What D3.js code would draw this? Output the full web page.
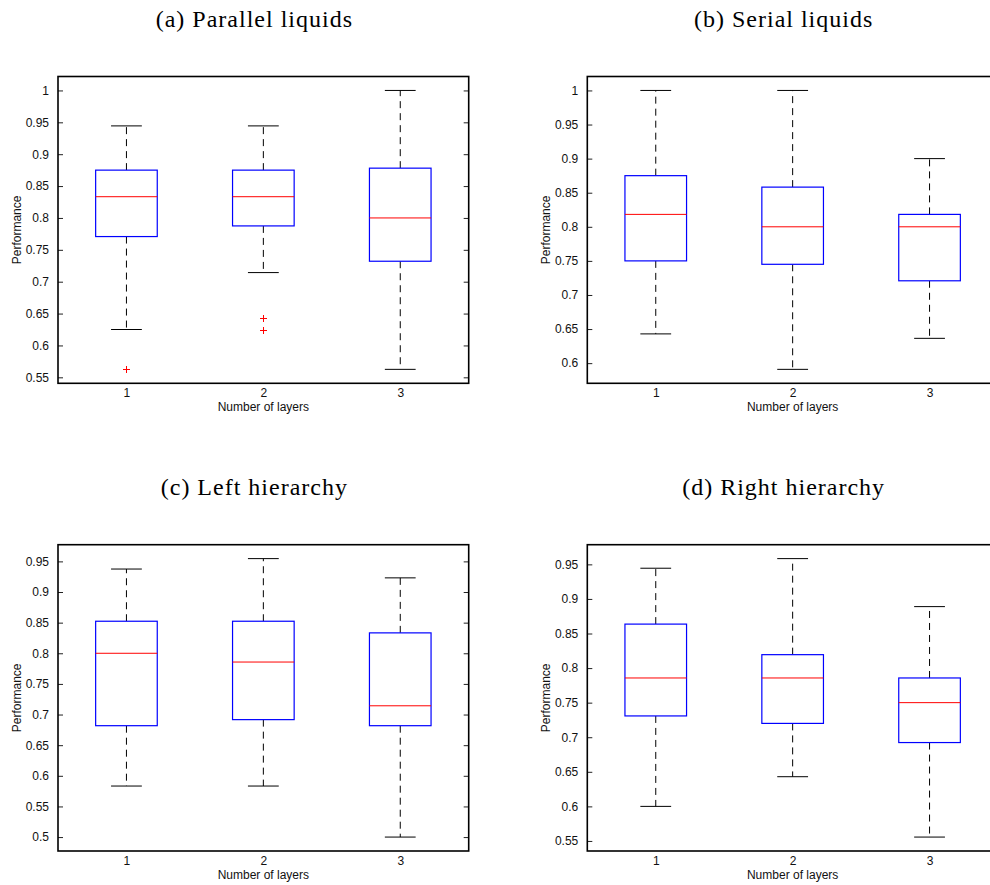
<!DOCTYPE html>
<html>
<head>
<meta charset="utf-8">
<script src="https://cdn.jsdelivr.net/npm/d3@7"></script>
<style>
  html, body { margin: 0; padding: 0; background: #fff; }
  svg { display: block; }
</style>
</head>
<body>
<svg id="chart" width="990" height="885"></svg>
<script>
// Number of layers on the x axis
const layers = [1, 2, 3];

// Five-number summaries per layer: [lower whisker, Q1, median, Q3, upper whisker]
const parallelLiquids = [
  [0.625, 0.7708, 0.8333, 0.875, 0.9444],
  [0.7143, 0.7875, 0.8333, 0.875, 0.9444],
  [0.5625, 0.7321, 0.8, 0.8781, 1.0]
];
const parallelOutliers = [[0.5625], [0.6429, 0.625], []];

const serialLiquids = [
  [0.6429, 0.75, 0.8182, 0.875, 1.0],
  [0.5909, 0.745, 0.8, 0.8582, 1.0],
  [0.6364, 0.7208, 0.8, 0.8182, 0.9]
];
const serialOutliers = [[], [], []];

const leftHierarchy = [
  [0.5833, 0.6818, 0.8, 0.8523, 0.9375],
  [0.5833, 0.6917, 0.7857, 0.8523, 0.9545],
  [0.5, 0.6818, 0.7143, 0.8333, 0.9231]
];
const leftOutliers = [[], [], []];

const rightHierarchy = [
  [0.6, 0.7308, 0.7857, 0.8636, 0.9444],
  [0.6429, 0.72, 0.7857, 0.8194, 0.9583],
  [0.5556, 0.6923, 0.75, 0.7857, 0.8889]
];
const rightOutliers = [[], [], []];

const titles = ["(a) Parallel liquids", "(b) Serial liquids", "(c) Left hierarchy", "(d) Right hierarchy"];
const yTicks = d3.range(0.5, 1.0001, 0.05).map(v => +v.toFixed(2));
const xLabel = "Number of layers";
const yLabel = "Performance";

const panels = [
  { title: titles[0], stats: parallelLiquids, outliers: parallelOutliers, left: 58, top: 76.5, right: 468.7, bottom: 383.3 },
  { title: titles[1], stats: serialLiquids, outliers: serialOutliers, left: 587.3, top: 76.5, right: 998, bottom: 383.3 },
  { title: titles[2], stats: leftHierarchy, outliers: leftOutliers, left: 58, top: 544.7, right: 468.7, bottom: 851 },
  { title: titles[3], stats: rightHierarchy, outliers: rightOutliers, left: 587.3, top: 544.7, right: 998, bottom: 851 }
];

const svg = d3.select("#chart");
const fmt = v => String(+v.toFixed(2));

panels.forEach(p => {
  const g = svg.append("g");

  // y limits: data range padded by 5% on each side
  const all = p.stats.flat().concat(p.outliers.flat());
  const lo = d3.min(all), hi = d3.max(all);
  const pad = (hi - lo) * 0.05;
  const y = d3.scaleLinear().domain([lo - pad, hi + pad]).range([p.bottom, p.top]);
  const x = d3.scaleLinear().domain([0.5, layers.length + 0.5]).range([p.left, p.right]);
  const boxW = x(0.45) - x(0);
  const capW = boxW / 2;

  const ticks = yTicks.filter(t => t >= y.domain()[0] - 1e-9 && t <= y.domain()[1] + 1e-9);

  // left axis with inward ticks and labels
  const yAxis = d3.axisLeft(y).tickValues(ticks).tickSizeInner(-5).tickSizeOuter(0).tickPadding(9).tickFormat(fmt);
  const ga = g.append("g").attr("transform", `translate(${p.left},0)`).call(yAxis);
  ga.select(".domain").remove();
  ga.selectAll("line").attr("stroke", "#222").attr("stroke-width", 1);
  ga.selectAll("text").attr("font-family", "Liberation Sans, Arial, sans-serif").attr("font-size", 12).attr("fill", "#111");

  // right axis: inward ticks only
  const yAxisR = d3.axisRight(y).tickValues(ticks).tickSizeInner(-5).tickSizeOuter(0).tickFormat("");
  const gr = g.append("g").attr("transform", `translate(${p.right},0)`).call(yAxisR);
  gr.select(".domain").remove();
  gr.selectAll("line").attr("stroke", "#222").attr("stroke-width", 1);

  // x tick labels
  const xAxis = d3.axisBottom(x).tickValues(layers).tickSize(0).tickPadding(5).tickFormat(d3.format("d"));
  const gx = g.append("g").attr("transform", `translate(0,${p.bottom})`).call(xAxis);
  gx.select(".domain").remove();
  gx.selectAll("text").attr("font-family", "Liberation Sans, Arial, sans-serif").attr("font-size", 12).attr("fill", "#111");

  // boxes
  const boxes = g.selectAll("g.box").data(p.stats).join("g").attr("class", "box");
  boxes.each(function(s, i) {
    const b = d3.select(this);
    const cx = x(layers[i]);
    const [wl, q1, med, q3, wh] = s;
    // dashed whiskers
    b.append("line").attr("x1", cx).attr("x2", cx).attr("y1", y(q3)).attr("y2", y(wh))
      .attr("stroke", "#000").attr("stroke-width", 1).attr("stroke-dasharray", "7,5");
    b.append("line").attr("x1", cx).attr("x2", cx).attr("y1", y(q1)).attr("y2", y(wl))
      .attr("stroke", "#000").attr("stroke-width", 1).attr("stroke-dasharray", "7,5");
    // caps
    [wl, wh].forEach(v => {
      b.append("line").attr("x1", cx - capW / 2).attr("x2", cx + capW / 2).attr("y1", y(v)).attr("y2", y(v))
        .attr("stroke", "#000").attr("stroke-width", 1);
    });
    // box
    b.append("rect").attr("x", cx - boxW / 2).attr("width", boxW).attr("y", y(q3)).attr("height", y(q1) - y(q3))
      .attr("fill", "#fff").attr("stroke", "#00f").attr("stroke-width", 1.2);
    // median
    b.append("line").attr("x1", cx - boxW / 2).attr("x2", cx + boxW / 2).attr("y1", y(med)).attr("y2", y(med))
      .attr("stroke", "#f00").attr("stroke-width", 1);
    // outliers
    p.outliers[i].forEach(v => {
      const oy = Math.round(y(v)) + 0.5;
      const ox = Math.round(cx) + 0.5;
      b.append("path").attr("d", `M${ox - 3.5},${oy}H${ox + 3.5}M${ox},${oy - 3.5}V${oy + 3.5}`)
        .attr("stroke", "#f00").attr("stroke-width", 1).attr("fill", "none");
    });
  });

  // axes frame
  g.append("rect").attr("x", p.left).attr("y", p.top).attr("width", p.right - p.left).attr("height", p.bottom - p.top)
    .attr("fill", "none").attr("stroke", "#000").attr("stroke-width", 1.6);

  // axis labels
  g.append("text").attr("x", (p.left + p.right) / 2).attr("y", p.bottom + 28)
    .attr("text-anchor", "middle").attr("font-family", "Liberation Sans, Arial, sans-serif").attr("font-size", 12)
    .attr("fill", "#111").text(xLabel);
  const ly = (p.top + p.bottom) / 2;
  g.append("text").attr("transform", `translate(${p.left - 37},${ly}) rotate(-90)`)
    .attr("text-anchor", "middle").attr("font-family", "Liberation Sans, Arial, sans-serif").attr("font-size", 12)
    .attr("fill", "#111").text(yLabel);

  // subfigure caption
  const capX = p.left + (468.7 - 58) / 2 - 9;
  g.append("text").attr("x", capX).attr("y", p.top - 50)
    .attr("text-anchor", "middle").attr("font-family", "Liberation Serif, Times New Roman, serif").attr("font-size", 24)
    .attr("letter-spacing", 1).attr("fill", "#000").text(p.title);
});
</script>
</body>
</html>
